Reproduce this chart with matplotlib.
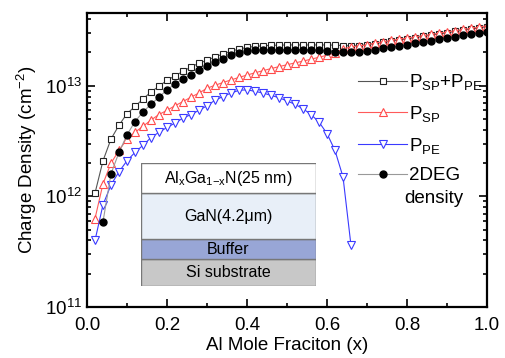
import numpy as np
import matplotlib
matplotlib.use("Agg")
import matplotlib.pyplot as plt
from matplotlib.patches import Rectangle
from matplotlib.ticker import MultipleLocator, LogLocator, NullFormatter

plt.rcParams["font.family"] = ["Liberation Sans", "DejaVu Sans"]
plt.rcParams["mathtext.fontset"] = "custom"
plt.rcParams["mathtext.rm"] = "Liberation Sans"
plt.rcParams["mathtext.it"] = "Liberation Sans:italic"

# Al mole fraction, step 0.02
x_all = np.round(np.arange(1, 51) * 0.02, 2)

p_sum = [1.07e12, 2.1e12, 3.3e12, 4.4e12, 5.6e12, 6.5e12, 7.6e12, 8.8e12, 9.9e12, 1.12e13,
         1.23e13, 1.35e13, 1.48e13, 1.6e13, 1.7e13, 1.82e13, 1.94e13, 2.05e13, 2.15e13, 2.22e13,
         2.27e13, 2.30e13, 2.32e13, 2.33e13, 2.34e13, 2.34e13, 2.34e13, 2.34e13, 2.34e13, 2.34e13,
         2.33e13, 2.31e13, 2.30e13, 2.31e13, 2.35e13, 2.41e13, 2.47e13, 2.53e13, 2.60e13, 2.66e13,
         2.73e13, 2.80e13, 2.87e13, 2.94e13, 3.02e13, 3.10e13, 3.18e13, 3.26e13, 3.34e13, 3.43e13]

p_sp = [6.3e11, 1.3e12, 2.0e12, 2.6e12, 3.3e12, 3.8e12, 4.3e12, 4.9e12, 5.5e12, 6.0e12,
        6.6e12, 7.2e12, 7.9e12, 8.6e12, 9.5e12, 1.01e13, 1.07e13, 1.13e13, 1.19e13, 1.25e13,
        1.31e13, 1.37e13, 1.43e13, 1.49e13, 1.55e13, 1.61e13, 1.67e13, 1.74e13, 1.81e13, 1.89e13,
        1.98e13, 2.15e13, 2.25e13, 2.30e13, 2.34e13, 2.44e13, 2.50e13, 2.57e13, 2.64e13, 2.70e13,
        2.77e13, 2.84e13, 2.91e13, 2.99e13, 3.07e13, 3.15e13, 3.23e13, 3.31e13, 3.40e13, 3.49e13]

x_pe = x_all[:33]
p_pe = [4.0e11, 8.4e11, 1.27e12, 1.67e12, 2.1e12, 2.5e12, 2.9e12, 3.4e12, 3.8e12, 4.2e12,
        4.6e12, 5.1e12, 5.5e12, 6.0e12, 6.6e12, 7.4e12, 8.0e12, 8.6e12, 9.1e12, 9.2e12,
        8.9e12, 8.6e12, 8.2e12, 7.8e12, 7.3e12, 6.8e12, 6.2e12, 5.5e12, 4.7e12, 3.7e12,
        2.6e12, 1.5e12, 3.6e11]

x_2deg = x_all[1:]
n_2deg = [5.9e11, 1.6e12, 2.5e12, 3.6e12, 4.75e12, 5.8e12, 6.8e12, 7.9e12, 9.2e12,
          1.04e13, 1.15e13, 1.26e13, 1.38e13, 1.5e13, 1.63e13, 1.76e13, 1.88e13, 1.98e13, 2.05e13,
          2.09e13, 2.11e13, 2.12e13, 2.12e13, 2.12e13, 2.12e13, 2.12e13, 2.11e13, 2.10e13, 2.08e13,
          2.04e13, 2.01e13, 2.00e13, 2.02e13, 2.06e13, 2.12e13, 2.18e13, 2.24e13, 2.30e13, 2.36e13,
          2.43e13, 2.49e13, 2.56e13, 2.63e13, 2.70e13, 2.78e13, 2.85e13, 2.93e13, 3.01e13, 3.09e13]

layers = ["Si substrate", "Buffer", "GaN(4.2μm)", r"Al$_{\rm x}$Ga$_{\rm 1\mathrm{-}x}$N(25 nm)"]
layer_colors = ["#c8c8c8", "#98a6d6", "#e8eff8", "#ffffff"]
layer_heights = [27, 20, 46, 30]

fig = plt.figure(figsize=(5.05, 3.58), dpi=100)
ax = fig.add_axes([87 / 505, 51 / 358, 400 / 505, 294 / 358])

ax.plot(x_all, p_sum, "-s", color="#555555", lw=0.8, ms=4.8, mfc="white", mec="#222222",
        mew=0.8, label=r"P$_{\rm SP}$+P$_{\rm PE}$")
ax.plot(x_all, p_sp, "-^", color="#ff5a5a", lw=0.8, ms=5.2, mfc="white", mec="#ff4a4a",
        mew=0.8, label=r"P$_{\rm SP}$")
ax.plot(x_pe, p_pe, "-v", color="#3a3aff", lw=0.8, ms=5.2, mfc="white", mec="#3a3aff",
        mew=0.8, label=r"P$_{\rm PE}$")
ax.plot(x_2deg, n_2deg, "-o", color="#999999", lw=0.8, ms=5, mfc="black", mec="black",
        label="2DEG")

ax.set_yscale("log")
ax.set_xlim(0, 1.0)
ax.set_ylim(1e11, 4.55e13)
ax.xaxis.set_major_locator(MultipleLocator(0.2))
ax.xaxis.set_minor_locator(MultipleLocator(0.1))
ax.yaxis.set_major_locator(LogLocator(base=10, numticks=10))
ax.yaxis.set_minor_locator(LogLocator(base=10, subs=np.arange(2, 10), numticks=10))
ax.yaxis.set_minor_formatter(NullFormatter())
ax.tick_params(which="both", direction="in", top=True, right=True, width=1.2, labelsize=13.5)
ax.tick_params(which="major", length=6)
ax.tick_params(which="minor", length=3)
ax.tick_params(axis="x", pad=7)
for s in ax.spines.values():
    s.set_linewidth(1.6)

ax.set_xlabel("Al Mole Fraciton (x)", fontsize=13.5, labelpad=2)
ax.set_ylabel(r"Charge Density (cm$^{-2}$)", fontsize=13.5, labelpad=4)

ax.legend(loc="upper left", bbox_to_anchor=(0.655, 0.83), frameon=False, fontsize=13.5,
          handlelength=2.6, handletextpad=0.1, labelspacing=0.62, borderpad=0)
ax.text(0.792, 0.37, "density", transform=ax.transAxes, fontsize=13.5, ha="left", va="center")

# layer stack inset
ins = fig.add_axes([141 / 505, 72 / 358, 175 / 505, 123 / 358])
ins.set_xlim(0, 1)
ins.set_ylim(0, sum(layer_heights))
ins.axis("off")
bottom = 0
for name, col, h in zip(layers, layer_colors, layer_heights):
    ins.add_patch(Rectangle((0, bottom), 1, h, facecolor=col, edgecolor="#777777", lw=1.0))
    ins.text(0.5, bottom + h / 2, name, ha="center", va="center", fontsize=11.5)
    bottom += h

fig.savefig("out.png", dpi=100)
